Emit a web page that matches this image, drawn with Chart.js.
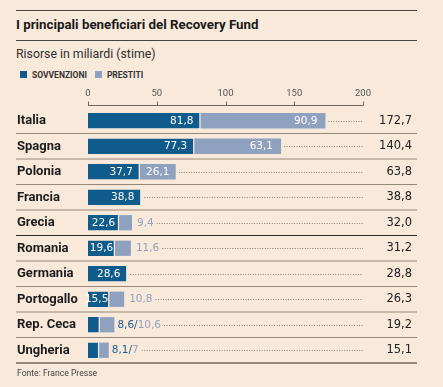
<!DOCTYPE html>
<html><head><meta charset="utf-8">
<script src="https://cdn.jsdelivr.net/npm/chart.js@4"></script>
<style>
html,body{margin:0;padding:0;background:#f9e9db;}
#wrap{position:relative;width:443px;height:387px;overflow:hidden;font-family:Roboto,sans-serif;}
.rule{position:absolute;left:16px;width:401px;height:1px;background:#4a433d;}
#title{position:absolute;left:16px;top:17.8px;font-weight:700;font-size:13.3px;line-height:13.3px;color:#1a1a1a;white-space:nowrap;}
#sub{position:absolute;left:16px;top:48.2px;font-size:12.3px;line-height:12.3px;color:#2e2e2e;white-space:nowrap;}
#legend{position:absolute;left:20px;top:70.8px;font-size:8.5px;line-height:8.5px;font-weight:700;color:#333;white-space:nowrap;}
#legend span.sw{display:inline-block;width:7px;height:7px;vertical-align:-0.5px;margin-right:5px;}
#legend span.it{margin-right:8px;}
#foot{position:absolute;left:17px;top:369px;font-size:8.6px;line-height:8.6px;color:#444;white-space:nowrap;}
canvas{position:absolute;left:0;top:0;}
</style></head>
<body><div id="wrap">
<div class="rule" style="top:10px"></div>
<div id="title">I principali beneficiari del Recovery Fund</div>
<div class="rule" style="top:40px"></div>
<div id="sub">Risorse in miliardi (stime)</div>
<div id="legend"><span class="sw" style="background:#0f5c8c"></span><span class="it">SOVVENZIONI</span><span class="sw" style="background:#8ea2c0"></span><span>PRESTITI</span></div>
<canvas id="c" width="443" height="387" style="width:443px;height:387px"></canvas>
<div id="foot">Fonte: France Presse</div>
</div>
<script>
const categories = ['Italia','Spagna','Polonia','Francia','Grecia','Romania','Germania','Portogallo','Rep. Ceca','Ungheria'];
const sovvenzioni = [81.8,77.3,37.7,38.8,22.6,19.6,28.6,15.5,8.6,8.1];
const prestiti = [90.9,63.1,26.1,0,9.4,11.6,0,10.8,10.6,7];
const totali = [172.7,140.4,63.8,38.8,32.0,31.2,28.8,26.3,19.2,15.1];
const xTicks = [0,50,100,150,200];

const BG = '#f9e9db', DARK = '#0f5c8c', LIGHT = '#8ea2c0';
const fmtBar = v => Number.isInteger(v) ? String(v) : v.toFixed(1).replace('.', ',');
const fmtTot = v => v.toFixed(1).replace('.', ',');

const decor = {
  id: 'decor',
  afterDatasetsDraw(chart) {
    const ctx = chart.ctx, xs = chart.scales.x, ys = chart.scales.y;
    const n = categories.length, h = (ys.bottom - ys.top) / n;
    ctx.save();
    // axis line + ticks
    const ay = Math.round(ys.top - 3) + 0.5;
    ctx.strokeStyle = '#6e655d'; ctx.lineWidth = 1;
    ctx.beginPath();
    ctx.moveTo(xs.left, ay); ctx.lineTo(xs.right + 0.5, ay);
    xTicks.forEach(v => { const px = Math.round(xs.getPixelForValue(v)) + 0.5; ctx.moveTo(px, ay); ctx.lineTo(px, ay - 4); });
    ctx.stroke();
    // separators
    for (let k = 1; k <= n; k++) {
      const y = ys.top + k * h;
      ctx.beginPath();
      ctx.lineWidth = k === n ? 2 : 1.2;
      ctx.strokeStyle = k === 5 ? '#2e2a27' : '#958879';
      ctx.moveTo(16, y); ctx.lineTo(417, y);
      ctx.stroke();
    }
    // value labels + dotted leaders
    const m0 = chart.getDatasetMeta(0), m1 = chart.getDatasetMeta(1);
    ctx.font = '10.5px "DejaVu Sans"';
    ctx.textBaseline = 'middle';
    for (let i = 0; i < n; i++) {
      const b0 = m0.data[i], b1 = m1.data[i];
      const cy = b0.y + 0.5;
      const t0 = fmtBar(sovvenzioni[i]), t1 = fmtBar(prestiti[i]);
      const w0 = ctx.measureText(t0).width, w1 = ctx.measureText(t1).width;
      const seg0 = b0.x - b0.base, seg1 = b1.x - b1.base;
      const end = Math.max(b0.x, b1.x);
      const fit0 = seg0 >= w0 - 3;
      const has1 = prestiti[i] > 0;
      const fit1 = fit0 && has1 && seg1 >= w1 + 2;
      let textEnd = end;
      ctx.textAlign = 'right';
      ctx.fillStyle = '#ffffff';
      if (fit0) {
        const pad = Math.max(1, Math.min(7, (seg0 - w0) / 2));
        ctx.fillText(t0, b0.x - pad, cy);
      }
      if (fit1) {
        const pad = Math.max(1, Math.min(8, (seg1 - w1) / 2));
        ctx.fillText(t1, b1.x - pad, cy);
      }
      ctx.textAlign = 'left';
      if (!fit0) {
        let x = end + 3;
        ctx.fillStyle = '#1d5e8d'; ctx.fillText(t0, x, cy); x += w0;
        ctx.fillText('/', x, cy); x += ctx.measureText('/').width;
        ctx.fillStyle = '#93a3ba'; ctx.fillText(t1, x, cy); x += w1;
        textEnd = x;
      } else if (has1 && !fit1) {
        const x = end + 5;
        ctx.fillStyle = '#93a3ba'; ctx.fillText(t1, x, cy);
        textEnd = x + w1;
      }
      const ds = Math.max(textEnd + 3, end + 2);
      ctx.beginPath();
      ctx.setLineDash([1, 1.5]);
      ctx.strokeStyle = '#8a837c'; ctx.lineWidth = 1;
      const ly = Math.round(b0.y) + 0.5;
      ctx.moveTo(ds, ly); ctx.lineTo(xs.right, ly);
      ctx.stroke();
      ctx.setLineDash([]);
    }
    ctx.restore();
  }
};

new Chart(document.getElementById('c'), {
  type: 'bar',
  data: {
    labels: categories,
    datasets: [
      { label: 'SOVVENZIONI', data: sovvenzioni, backgroundColor: DARK, borderColor: BG, borderWidth: {top:0,right:1.2,bottom:0,left:0}, borderSkipped: false },
      { label: 'PRESTITI', data: prestiti, backgroundColor: LIGHT, borderWidth: 0 }
    ]
  },
  options: {
    indexAxis: 'y',
    responsive: false,
    devicePixelRatio: 1,
    animation: false,
    events: [],
    layout: { padding: { left: 17, right: 31, top: 88, bottom: 24 } },
    barPercentage: 0.6,
    categoryPercentage: 1,
    plugins: { legend: { display: false }, tooltip: { enabled: false } },
    scales: {
      x: {
        type: 'linear', position: 'top', stacked: true, min: 0, max: 200,
        afterBuildTicks: s => { s.ticks = xTicks.map(v => ({ value: v })); },
        afterFit: s => { s.height = 20; },
        grid: { display: false, drawTicks: false, tickLength: 0 }, border: { display: false },
        ticks: { font: { family: 'Roboto', size: 9.5, lineHeight: 1 }, color: '#555', padding: 10, maxRotation: 0, autoSkip: false }
      },
      y: {
        type: 'category', position: 'left', stacked: true,
        afterFit: s => { s.width = 71; },
        grid: { display: false }, border: { display: false },
        ticks: { font: { family: 'Roboto', size: 13, weight: 'bold' }, color: '#1c1c1c', crossAlign: 'far', padding: 0 }
      },
      y2: {
        type: 'category', position: 'right', offset: true,
        labels: totali.map(fmtTot),
        afterFit: s => { s.width = 49; },
        grid: { display: false }, border: { display: false },
        ticks: { font: { family: 'DejaVu Sans', size: 11.5 }, color: '#222', crossAlign: 'far', padding: 0 }
      }
    }
  },
  plugins: [decor]
});
</script>
</body></html>
